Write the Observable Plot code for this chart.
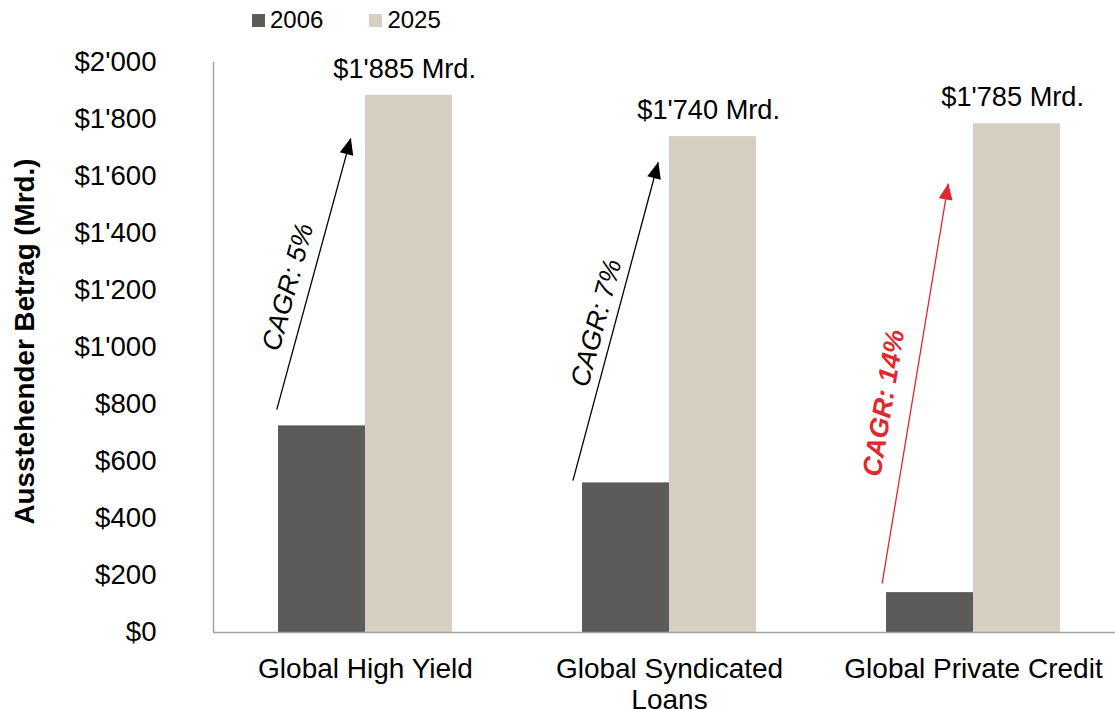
<!DOCTYPE html>
<html>
<head>
<meta charset="utf-8">
<script src="https://cdn.jsdelivr.net/npm/d3@7"></script>
<script src="https://cdn.jsdelivr.net/npm/@observablehq/plot@0.6"></script>
<style>
  html, body { margin: 0; padding: 0; background: #fff; overflow: hidden; }
  #wrap { position: relative; width: 1115px; height: 709px; overflow: hidden; font-family: "Liberation Sans", Arial, sans-serif; }
  #legend { position: absolute; left: 252px; top: 6px; display: flex; align-items: center; font-size: 24px; color: #000; line-height: normal; }
  #legend .item { display: flex; align-items: center; }
  #legend .item + .item { margin-left: 46px; }
  #legend .sw { display: inline-block; width: 13px; height: 13px; margin-right: 5px; }
  #chart { position: absolute; left: 0; top: 0; }
</style>
</head>
<body>
<div id="wrap">
  <div id="chart"></div>
  <div id="legend"></div>
</div>
<script>
// ---- data ----
const categories = ["Global High Yield", "Global Syndicated Loans", "Global Private Credit"];
const categoryLabels = ["Global High Yield", "Global Syndicated\nLoans", "Global Private Credit"];
const years = ["2006", "2025"];
const values2006 = [725, 525, 140];
const values2025 = [1885, 1740, 1785];
const yTicks = [0, 200, 400, 600, 800, 1000, 1200, 1400, 1600, 1800, 2000];
const yTitle = "Ausstehender Betrag (Mrd.)";

// CAGR annotations (x in bar-width units inside each group, y in Mrd.)
const cagrLabels = ["CAGR: 5%", "CAGR: 7%", "CAGR: 14%"];
const highlight = [false, false, true];
const arrowX1 = [-0.02, -0.11, -0.05];
const arrowY1 = [782, 533, 172];
const arrowX2 = [0.83, 0.87, 0.71];
const arrowY2 = [1733, 1649, 1575];
const cagrX = [0.11, 0.16, -0.03];
const cagrY = [1212, 1086, 805];
const cagrAngle = [-74.7, -75, -80.6];

// ---- styles ----
const barColors = ["#5c5b59", "#d6cfc2"];
const red = "#e0282d";
const axisGray = "#a3a3a3";
const font = "'Liberation Sans', Arial, sans-serif";

const fmt = d3.formatLocale({decimal: ".", thousands: "'", grouping: [3], currency: ["$", ""]}).format("$,");

const rows = categories.flatMap((c, i) => years.map((yr, j) => ({
  category: c, year: yr, slot: j, value: j === 0 ? values2006[i] : values2025[i]
})));
const notes = categories.map((c, i) => ({
  category: c, x1: arrowX1[i], y1: arrowY1[i], x2: arrowX2[i], y2: arrowY2[i],
  tx: cagrX[i], ty: cagrY[i], angle: cagrAngle[i], label: cagrLabels[i], highlight: highlight[i]
}));

function headMarker(color, context) {
  const ns = "http://www.w3.org/2000/svg";
  const doc = (context && context.document) || document;
  const m = doc.createElementNS(ns, "marker");
  m.setAttribute("viewBox", "-17 -8 18 16");
  m.setAttribute("markerWidth", 18);
  m.setAttribute("markerHeight", 16);
  m.setAttribute("markerUnits", "userSpaceOnUse");
  m.setAttribute("orient", "auto");
  m.setAttribute("refX", 0);
  m.setAttribute("refY", 0);
  m.setAttribute("overflow", "visible");
  const p = doc.createElementNS(ns, "path");
  p.setAttribute("d", "M-16,-7L0.5,0L-16,7Z");
  p.setAttribute("fill", color);
  p.setAttribute("stroke", "none");
  m.appendChild(p);
  return m;
}

const chart = Plot.plot({
  width: 1125,
  height: 709,
  marginLeft: 213,
  marginRight: 0,
  marginTop: 62,
  marginBottom: 77,
  style: {fontFamily: font, fontSize: "27px", color: "#000", background: "transparent", overflow: "visible", maxWidth: "none"},
  fx: {domain: categories, padding: 0, label: null},
  x: {domain: [-0.747, 2.747], axis: null},
  y: {domain: [0, 2000]},
  color: {domain: years, range: barColors},
  marks: [
    Plot.rectY(rows, {fx: "category", x1: d => d.slot, x2: d => d.slot + 1, y: "value", fill: "year"}),
    Plot.ruleY([0], {stroke: axisGray, strokeWidth: 1.5}),
    Plot.ruleX([categories[0]], {fx: d => d, x: () => -0.747, y1: () => 0, y2: () => 2000, stroke: axisGray, strokeWidth: 1.5}),
    Plot.axisY({ticks: yTicks, tickFormat: fmt, tickSize: 0, tickPadding: 57, fontSize: 27.6, label: null}),
    Plot.axisFx({anchor: "bottom", tickSize: 0, tickPadding: 23, fontSize: 28, lineHeight: 1.107, label: null,
      tickFormat: d => categoryLabels[categories.indexOf(d)]}),
    Plot.text(rows.filter(d => d.slot === 1), {fx: "category", x: d => d.slot + 0.45, y: "value",
      text: d => fmt(d.value) + " Mrd.", dy: -26, fontSize: 27.2, fill: "#000"}),
    Plot.link(notes, {filter: d => !d.highlight, fx: "category", x1: "x1", y1: "y1", x2: "x2", y2: "y2",
      stroke: "#000", strokeWidth: 1.3, markerEnd: headMarker}),
    Plot.link(notes, {filter: d => d.highlight, fx: "category", x1: "x1", y1: "y1", x2: "x2", y2: "y2",
      stroke: red, strokeWidth: 1.3, markerEnd: headMarker}),
    Plot.text(notes, {filter: d => !d.highlight, fx: "category", x: "tx", y: "ty", rotate: "angle", text: "label",
      fontStyle: "italic", fontSize: 26.7, fill: "#000"}),
    Plot.text(notes, {filter: d => d.highlight, fx: "category", x: "tx", y: "ty", rotate: "angle", text: "label",
      fontStyle: "italic", fontWeight: "bold", fontSize: 26.7, fill: red}),
    Plot.text([categories[0]], {fx: d => d, frameAnchor: "left", textAnchor: "middle", text: () => yTitle, rotate: -90,
      dx: -188, dy: -6, fontWeight: "bold", fontSize: 27.8, fill: "#000"})
  ]
});
document.getElementById("chart").appendChild(chart);

// legend
const legend = document.getElementById("legend");
years.forEach((yr, i) => {
  const item = document.createElement("span");
  item.className = "item";
  const sw = document.createElement("span");
  sw.className = "sw";
  sw.style.background = barColors[i];
  const t = document.createElement("span");
  t.textContent = yr;
  item.appendChild(sw);
  item.appendChild(t);
  legend.appendChild(item);
});
</script>
</body>
</html>
